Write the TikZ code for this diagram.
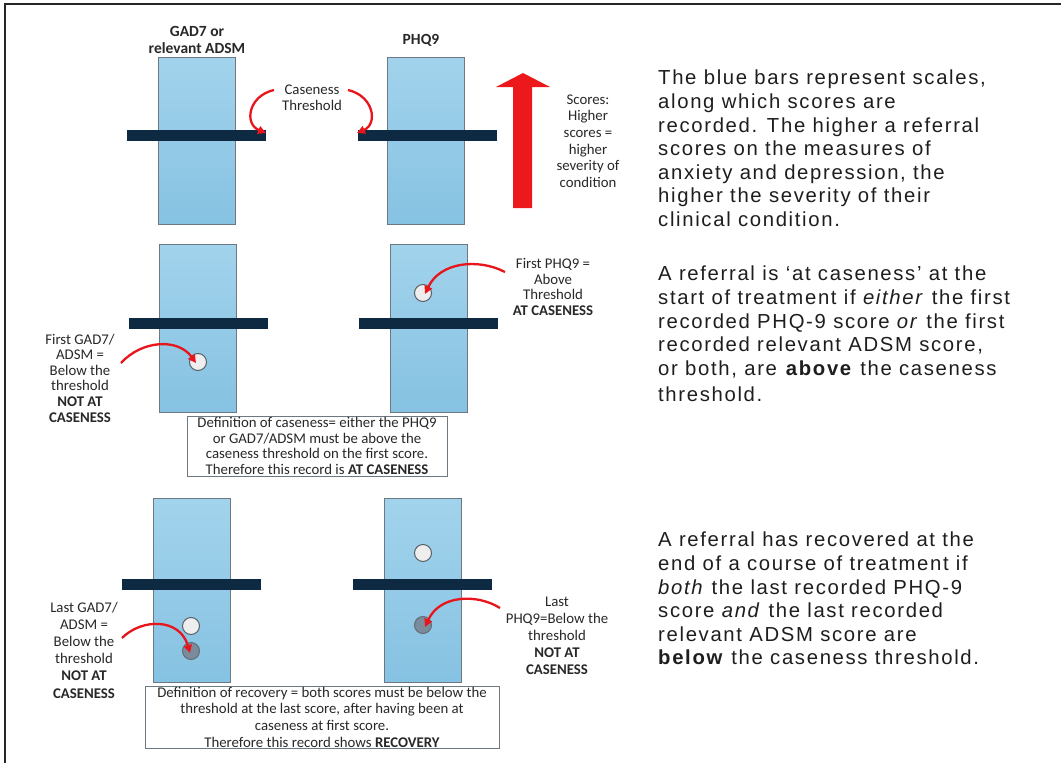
\documentclass[tikz,border=0pt]{standalone}
\usepackage{fontspec}
\setmainfont{Carlito}
\newfontfamily\arialfont{Liberation Sans}[LetterSpace=8.2]
\usetikzlibrary{arrows.meta}
\definecolor{bartop}{RGB}{162,211,236}
\definecolor{barbot}{RGB}{134,194,226}
\definecolor{barline}{RGB}{110,120,128}
\definecolor{navy}{RGB}{14,42,66}
\definecolor{arrred}{RGB}{232,22,28}
\definecolor{bigred}{RGB}{236,24,28}
\definecolor{dotlight}{RGB}{238,238,238}
\definecolor{dotdark}{RGB}{122,140,156}
\definecolor{lbltext}{RGB}{40,40,40}
\definecolor{paratext}{RGB}{30,30,30}
\begin{document}
\begin{tikzpicture}[x=1pt,y=-1pt,
  scalebar/.style={draw=barline, line width=0.9pt, top color=bartop, bottom color=barbot, minimum width=77pt, inner sep=0pt},
  thresh/.style={fill=navy, minimum width=139pt, minimum height=11pt, inner sep=0pt},
  dotw/.style={circle, draw=barline!80!black, line width=1pt, fill=dotlight, minimum size=17pt, inner sep=0pt},
  dotg/.style={circle, draw=barline!90!black, line width=1pt, fill=dotdark, minimum size=17pt, inner sep=0pt},
  redarr/.style={draw=arrred, line width=2.3pt, -{Triangle[length=8pt,width=8pt]}},
  lbl/.style={align=center, text=lbltext, inner sep=0pt, font=\fontsize{14.8}{15.6}\selectfont},
  defbox/.style={draw=barline, line width=0.9pt, fill=white, align=center, text=lbltext, inner sep=0pt},
  para/.style={anchor=north west, align=left, text=paratext, inner sep=0pt, font=\arialfont\fontsize{20.3}{23.6}\selectfont}
]
\useasboundingbox (0,0) rectangle (1061,763);
\fill[white] (0,0) rectangle (1061,763);
\draw[line width=1.6pt, black!85] (5,763) -- (5,4) -- (1061,4);

% ---------- Section 1 ----------
\node[lbl, font=\bfseries\fontsize{15.5}{16.5}\selectfont] (h1) at (197,40) {GAD7 or\\relevant ADSM};
\node[lbl, font=\bfseries\fontsize{15.5}{16.5}\selectfont] (h2) at (421,40) {PHQ9};
\node[scalebar, minimum height=167pt] (b1) at (196.5,140.5) {};
\node[scalebar, minimum height=167pt] (b2) at (425.5,140.5) {};
\node[thresh] (t1) at (196.5,135.5) {};
\node[thresh] (t2) at (427,135.5) {};
\node[lbl] (ct) at (312,98) {Caseness\\Threshold};
\coordinate (ctl) at (274,90);
\coordinate (ctr) at (348,90);
\coordinate (t1e) at (266,133);
\coordinate (t2e) at (357,133);
\draw[redarr] (ctl) .. controls (248,96) and (244,124) .. (t1e);
\draw[redarr] (ctr) .. controls (374,96) and (378,124) .. (t2e);

\fill[bigred] (513,208) -- (513,87) -- (496,87) -- (523,73) -- (550,87) -- (532,87) -- (532,208) -- cycle;
\node[lbl, font=\fontsize{14.8}{16.7}\selectfont] (sc) at (588,141) {Scores:\\Higher\\scores =\\higher\\severity of\\condition};

\node[para] (p1) at (658,70) {The blue bars represent scales,\\along which scores are\\recorded. The higher a referral\\scores on the measures of\\anxiety and depression, the\\higher the severity of their\\clinical condition.};

% ---------- Section 2 ----------
\node[scalebar, minimum height=168pt] (b3) at (198,328) {};
\node[scalebar, minimum height=168pt] (b4) at (428.5,328) {};
\node[thresh] (t3) at (198.5,323) {};
\node[thresh] (t4) at (428,323) {};
\node[dotw] (d1) at (198,362) {};
\node[dotw] (d2) at (423,293) {};
\node[lbl] (l1) at (80,378) {First GAD7/\\ADSM =\\Below the\\threshold\\\textbf{NOT AT}\\\textbf{CASENESS}};
\node[lbl] (l2) at (553,287) {First PHQ9 =\\Above\\Threshold\\\textbf{AT CASENESS}};
\coordinate (a1s) at (121,363);
\coordinate (a2s) at (505,272);
\draw[redarr] (a1s) .. controls (142,340) and (178,338) .. ([xshift=-2pt,yshift=-1pt]d1.center);
\draw[redarr] (a2s) .. controls (478,258) and (440,262) .. ([xshift=2pt,yshift=-1pt]d2.center);
\node[defbox, minimum width=260pt, minimum height=60pt, font=\fontsize{14.8}{15.6}\selectfont] (box1) at (317,446) {Definition of caseness= either the PHQ9\\or GAD7/ADSM must be above the\\caseness threshold on the first score.\\Therefore this record is \textbf{AT CASENESS}};

\node[para] (p2) at (658,266) {A referral is ‘at caseness’ at the\\start of treatment if \textit{either} the first\\recorded PHQ-9 score \textit{or} the first\\recorded relevant ADSM score,\\or both, are \textbf{above} the caseness\\[2.5pt]threshold.};

% ---------- Section 3 ----------
\node[scalebar, minimum height=184pt] (b5) at (191.5,590) {};
\node[scalebar, minimum height=184pt] (b6) at (423,590) {};
\node[thresh] (t5) at (191.5,584.5) {};
\node[thresh] (t6) at (422.5,584.5) {};
\node[dotw] (d3) at (191,626) {};
\node[dotg] (d4) at (191,651) {};
\node[dotw] (d5) at (423,553) {};
\node[dotg] (d6) at (423,625) {};
\node[lbl, font=\fontsize{14.8}{17.2}\selectfont] (l3) at (84,650) {Last GAD7/\\ADSM =\\Below the\\threshold\\\textbf{NOT AT}\\\textbf{CASENESS}};
\node[lbl, font=\fontsize{14.8}{17}\selectfont] (l4) at (557,636) {Last\\PHQ9=Below the\\threshold\\\textbf{NOT AT}\\\textbf{CASENESS}};
\coordinate (a3s) at (122,638);
\coordinate (a4s) at (500,608);
\draw[redarr] (a3s) .. controls (142,618) and (180,618) .. ([xshift=-1pt,yshift=-2pt]d4.center);
\draw[redarr] (a4s) .. controls (478,594) and (440,594) .. ([xshift=2pt,yshift=-2pt]d6.center);
\node[defbox, minimum width=354pt, minimum height=62pt, font=\fontsize{14.8}{16.7}\selectfont] (box2) at (322,717) {Definition of recovery = both scores must be below the\\threshold at the last score, after having been at\\caseness at first score.\\Therefore this record shows \textbf{RECOVERY}};

\node[para] (p3) at (658,532) {A referral has recovered at the\\end of a course of treatment if\\\textit{both} the last recorded PHQ-9\\score \textit{and} the last recorded\\relevant ADSM score are\\\textbf{below} the caseness threshold.};
\end{tikzpicture}
\end{document}
